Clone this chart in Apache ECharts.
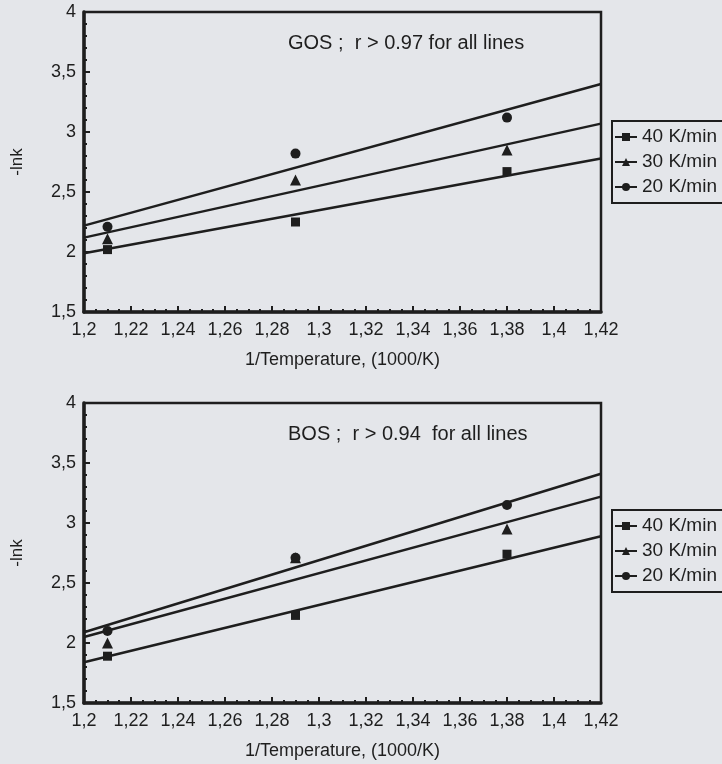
<!DOCTYPE html>
<html>
<head>
<meta charset="utf-8">
<title>GOS / BOS -lnk vs 1/T</title>
<script src="https://cdn.jsdelivr.net/npm/echarts@6/dist/echarts.min.js"></script>
<style>
  html, body { margin: 0; padding: 0; background: #e4e6ea; }
  #main { width: 722px; height: 764px; }
</style>
</head>
<body>
<div id="main"></div>
<script>
// rates (legend order)
var rateNames = ['40 K/min', '30 K/min', '20 K/min']
var rateSymbols = ['rect', 'triangle', 'circle']
var rateSymbolSizes = [9, 11, 10]

// measured points, x = 1/T (1000/K)
var pointX = [1.21, 1.29, 1.38]

// GOS, -lnk per rate
var gos40 = [2.02, 2.25, 2.67]
var gos30 = [2.11, 2.60, 2.85]
var gos20 = [2.21, 2.82, 3.12]
// BOS, -lnk per rate
var bos40 = [1.89, 2.23, 2.74]
var bos30 = [2.00, 2.71, 2.95]
var bos20 = [2.10, 2.71, 3.15]

// fitted lines, read at both ends of the x axis
var fitX = [1.2, 1.42]
var gosFit40 = [1.99, 2.78]
var gosFit30 = [2.12, 3.07]
var gosFit20 = [2.22, 3.40]
var bosFit40 = [1.84, 2.89]
var bosFit30 = [2.05, 3.22]
var bosFit20 = [2.09, 3.41]

var titles = ['GOS ;  r > 0.97 for all lines', 'BOS ;  r > 0.94  for all lines']

var ink = '#1e1e1e'
var font = 'Liberation Sans'

function pairs (xs, ys) {
  return xs.map(function (x, i) { return [x, ys[i]] })
}
function comma (v) {
  return String(+v.toFixed(2)).replace('.', ',')
}

var panels = [
  { points: [gos40, gos30, gos20], fits: [gosFit40, gosFit30, gosFit20] },
  { points: [bos40, bos30, bos20], fits: [bosFit40, bosFit30, bosFit20] }
]
var gridTops = [12, 403]
var legendTops = [121, 510]

var series = []
panels.forEach(function (p, k) {
  // fit lines first so the legend icon is line + marker
  p.fits.forEach(function (f, i) {
    series.push({
      name: rateNames[i],
      type: 'line',
      xAxisIndex: k,
      yAxisIndex: k,
      data: pairs(fitX, f),
      symbol: rateSymbols[i],
      showSymbol: false,
      silent: true,
      lineStyle: { color: ink, width: 2.5 },
      itemStyle: { color: ink },
      z: 2
    })
  })
  p.points.forEach(function (d, i) {
    series.push({
      name: rateNames[i],
      type: 'scatter',
      xAxisIndex: k,
      yAxisIndex: k,
      data: pairs(pointX, d),
      symbol: rateSymbols[i],
      symbolSize: rateSymbolSizes[i],
      itemStyle: { color: ink, opacity: 1 },
      z: 3
    })
  })
})

var myChart = echarts.init(document.getElementById('main'))

var option = {
  backgroundColor: '#e4e6ea',
  animation: false,
  textStyle: { fontFamily: font, color: ink },
  title: titles.map(function (t, k) {
    return {
      text: t,
      left: 283,
      top: gridTops[k] + 16,
      textStyle: { fontFamily: font, fontSize: 20, fontWeight: 'normal', color: ink }
    }
  }),
  legend: legendTops.map(function (top) {
    return {
      data: rateNames,
      orient: 'vertical',
      left: 612,
      top: top,
      padding: [6, 60, 6, 2],
      itemGap: 5,
      itemWidth: 22,
      itemHeight: 10,
      borderColor: ink,
      borderWidth: 2,
      selectedMode: false,
      textStyle: { fontFamily: font, fontSize: 19, lineHeight: 20, color: ink }
    }
  }),
  grid: gridTops.map(function (top) {
    return {
      left: 84,
      top: top,
      width: 517,
      height: 300,
      show: true,
      borderColor: ink,
      borderWidth: 2.5,
      backgroundColor: 'transparent'
    }
  }),
  xAxis: gridTops.map(function (t, k) {
    return {
      type: 'value',
      gridIndex: k,
      min: 1.2,
      max: 1.42,
      interval: 0.02,
      name: '1/Temperature, (1000/K)',
      nameLocation: 'middle',
      nameGap: 39,
      nameTextStyle: { fontFamily: font, fontSize: 18, color: ink },
      axisLine: { onZero: false, lineStyle: { color: ink, width: 3.5 } },
      axisTick: { inside: true, length: 6, lineStyle: { color: ink, width: 2 } },
      minorTick: { show: true, splitNumber: 4, length: 3, lineStyle: { color: ink, width: 2 } },
      axisLabel: { formatter: comma, fontFamily: font, fontSize: 18, color: ink, margin: 9 },
      splitLine: { show: false }
    }
  }),
  yAxis: gridTops.map(function (t, k) {
    return {
      type: 'value',
      gridIndex: k,
      min: 1.5,
      max: 4,
      interval: 0.5,
      name: '-lnk',
      nameLocation: 'middle',
      nameGap: 58,
      nameTextStyle: { fontFamily: font, fontSize: 17, color: ink },
      axisLine: { onZero: false, lineStyle: { color: ink, width: 3.5 } },
      axisTick: { inside: true, length: 6, lineStyle: { color: ink, width: 2 } },
      minorTick: { show: true, splitNumber: 5, length: 3, lineStyle: { color: ink, width: 2 } },
      axisLabel: { formatter: comma, fontFamily: font, fontSize: 18, color: ink, margin: 8 },
      splitLine: { show: false }
    }
  }),
  series: series
}

myChart.setOption(option)
</script>
</body>
</html>
